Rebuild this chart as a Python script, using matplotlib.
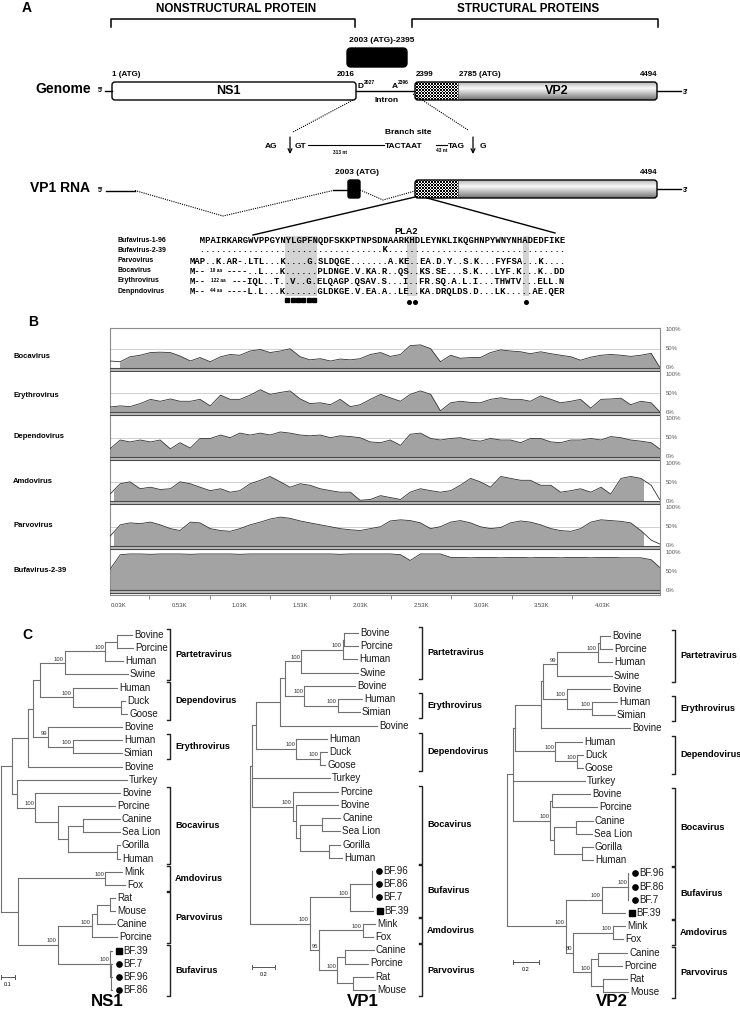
import numpy as np
import matplotlib.pyplot as plt
from matplotlib.patches import FancyBboxPatch, Rectangle

plt.rcParams['font.family'] = ['Liberation Sans', 'DejaVu Sans']

# ---------------- panel A: VP1 N-terminal alignment ----------------
aln_names = ['Bufavirus-1-96', 'Bufavirus-2-39', 'Parvovirus', 'Bocavirus', 'Erythrovirus', 'Denpndovirus']
aln_rows = [
    '  MPAIRKARGWVPPGYNYLGPFNQDFSKKPTNPSDNAARKHDLEYNKLIKQGHNPYWNYNHADEDFIKE',
    '  ' + '.' * 34 + 'K' + '.' * 33,
    'MAP..K.AR-.LTL...K....G.SLDQGE.......A.KE..EA.D.Y..S.K...FYFSA...K....',
    'M--    ----..L...K......PLDNGE.V.KA.R..QS..KS.SE...S.K...LYF.K...K..DD',
    'M--     ---IQL..T..V..G.ELQAGP.QSAV.S...I..FR.SQ.A.L.I...THWTV...ELL.N',
    'M--    ----L.L...K......GLDKGE.V.EA.A..LE..KA.DRQLDS.D...LK.....AE.QER',
]
aln_gap_notes = ['', '', '', '10 aa', '122 aa', '44 aa']
motif_cols = [16, 17, 18, 19, 20, 21]      # YLGPFN calcium-binding loop
pla2_cols = [39, 40, 61]                  # H D ... D catalytic residues

# ---------------- panel B: similarity plot (% identity) ----------------
sim_tracks = ['Bocavirus', 'Erythrovirus', 'Dependovirus', 'Amdovirus', 'Parvovirus', 'Bufavirus-2-39']
sim_pos = [-45, 40, 120, 205, 290, 370, 455, 535, 620, 700, 785, 870, 950, 1030, 1115, 1200,
           1280, 1365, 1445, 1530, 1610, 1695, 1780, 1860, 1945, 2025, 2110, 2195, 2275, 2360,
           2440, 2525, 2610, 2690, 2775, 2855, 2940, 3020, 3105, 3190, 3270, 3355, 3435, 3520,
           3605, 3685, 3770, 3850, 3935, 4020, 4100, 4185, 4265, 4350, 4435, 4505]
sim_boca = [18, 16, 29, 33, 40, 41, 40, 31, 18, 27, 16, 29, 35, 33, 44, 48, 40, 44, 50, 29,
            21, 24, 18, 23, 21, 24, 35, 40, 30, 35, 58, 60, 50, 16, 33, 25, 27, 27, 40, 47,
            44, 42, 37, 42, 37, 33, 29, 20, 28, 33, 35, 33, 30, 33, 38, 2]
sim_ery = [14, 17, 15, 23, 34, 29, 35, 29, 29, 34, 17, 45, 34, 34, 45, 59, 47, 52, 56, 35,
           23, 25, 20, 34, 15, 20, 34, 47, 38, 29, 47, 56, 47, 4, 25, 29, 26, 25, 34, 38,
           34, 34, 29, 43, 34, 25, 29, 34, 11, 34, 35, 37, 20, 29, 25, 2]
sim_dep = [21, 44, 39, 44, 39, 44, 21, 37, 23, 48, 48, 57, 50, 62, 57, 62, 57, 65, 62, 57,
           55, 57, 50, 55, 53, 50, 39, 37, 44, 30, 59, 62, 48, 44, 48, 50, 44, 41, 48, 44,
           44, 37, 48, 48, 39, 37, 44, 44, 48, 44, 53, 50, 44, 41, 37, 21]
sim_amdo = [19, 46, 51, 33, 37, 31, 33, 51, 46, 37, 28, 33, 24, 28, 46, 55, 65, 51, 37, 46,
            42, 33, 28, 24, 24, 3, 5, 15, 10, 5, 24, 33, 28, 24, 28, 42, 60, 51, 37, 65,
            60, 55, 55, 42, 42, 24, 28, 33, 24, 37, 19, 60, 65, 60, 42, 5]
sim_parvo = [25, 55, 60, 58, 62, 55, 45, 40, 62, 60, 45, 40, 38, 45, 55, 62, 70, 75, 72, 65,
             60, 55, 50, 45, 42, 40, 45, 50, 65, 68, 66, 60, 45, 50, 62, 66, 60, 50, 45, 48,
             60, 65, 62, 55, 45, 40, 38, 45, 62, 68, 66, 64, 60, 40, 15, 5]
sim_bufa = [55, 93, 95, 95, 94, 95, 95, 95, 94, 95, 95, 95, 95, 94, 95, 95, 95, 95, 95, 95,
            95, 95, 95, 94, 95, 95, 95, 95, 95, 93, 78, 95, 95, 95, 86, 86, 85, 86, 86, 85,
            86, 86, 85, 86, 86, 85, 86, 86, 85, 86, 86, 85, 85, 85, 80, 60]
sim_values = [sim_boca, sim_ery, sim_dep, sim_amdo, sim_parvo, sim_bufa]
sim_fill = [(40, 4508), (-45, 4508), (-45, 4508), (-10, 4368), (-10, 4368), (-45, 4508)]
sim_ticks = [30, 530, 1030, 1530, 2030, 2530, 3030, 3530, 4030]
sim_ticklabels = ['0.03K', '0.53K', '1.03K', '1.53K', '2.03K', '2.53K', '3.03K', '3.53K', '4.03K']

# ---------------- panel C: ML trees (newick, bootstrap as node labels) ----------------
ns1_nwk = ("((((((((Bovine:0.107,Porcine:0.114):0.086,Human:0.128)100:0.286,Swine:0.45)100:0.178,"
           "(Human:0.315,(Duck:0.029,Goose:0.043):0.343)100:0.235):0.05,"
           "(Bovine:0.528,(Human:0.35,Simian:0.35)100:0.178)99:0.107):0.036,Bovine:0.671):0.114,"
           "(Turkey:0.786,(Bovine:0.607,(Porcine:0.407,((Canine:0.264,Sea Lion:0.264):0.107,"
           "(Gorilla:0.021,Human:0.021):0.35):0.072):0.164)100:0.129):0.035):0.079,"
           "((Mink:0.121,Fox:0.143)100:0.622,((((Rat:0.035,Mouse:0.035):0.093,Canine:0.128):0.036,"
           "Porcine:0.179)100:0.243,(BF.39:0.014,(BF.7:0.007,BF.96:0.007,BF.86:0.007):0.007)100:0.372)100:0.286):0.121);")
vp1_nwk = ("((((((((Bovine:0.12,Porcine:0.12):0.009,Human:0.12)100:0.36,Swine:0.489)100:0.138,"
           "(Bovine:0.437,(Human:0.206,Simian:0.189)100:0.291)100:0.164):0.042,Bovine:0.832):0.206,"
           "(Human:0.266,(Duck:0.06,Goose:0.043)100:0.206)100:0.343):0.035,Turkey:0.67,"
           "(Porcine:0.386,(Bovine:0.36,((Canine:0.155,Sea Lion:0.155):0.189,"
           "(Gorilla:0.095,Human:0.112):0.249):0.034):0.026)100:0.352):0.017,"
           "(((BF.96:0.004,BF.86:0.004,BF.7:0.004):0.189,BF.39:0.198)100:0.343,"
           "((Mink:0.103,Fox:0.086)100:0.378,((Canine:0.249,Porcine:0.198):0.068,"
           "(Rat:0.172,Mouse:0.189):0.137)100:0.155)95:0.077)100:0.515);")
vp2_nwk = ("((((((((Bovine:0.078,Porcine:0.093):0.016,Human:0.109)100:0.319,Swine:0.428)99:0.109,"
           "(Bovine:0.335,(Human:0.195,Simian:0.179)100:0.194)100:0.187):0.015,Bovine:0.692):0.203,"
           "(Human:0.21,(Duck:0.046,Goose:0.046)100:0.171)100:0.312):0.015,Turkey:0.56,"
           "((Bovine:0.296,Porcine:0.35):0.015,((Canine:0.132,Sea Lion:0.124):0.171,"
           "(Gorilla:0.085,Human:0.085):0.218):0.031)100:0.288):0.047,"
           "(((BF.96:0.003,BF.86:0.003,BF.7:0.003)100:0.203,BF.39:0.179)100:0.28,"
           "((Mink:0.093,Fox:0.078)100:0.311,((Canine:0.226,Porcine:0.187):0.054,"
           "(Rat:0.187,Mouse:0.195):0.093)100:0.14)80:0.055)100:0.459);")
ns1_clades = [('Partetravirus', 0, 3), ('Dependovirus', 4, 6), ('Erythrovirus', 8, 9),
              ('Bocavirus', 12, 17), ('Amdovirus', 18, 19), ('Parvovirus', 20, 23), ('Bufavirus', 24, 27)]
vp_clades = [('Partetravirus', 0, 3), ('Erythrovirus', 5, 6), ('Dependovirus', 8, 10),
             ('Bocavirus', 12, 17), ('Bufavirus', 18, 21), ('Amdovirus', 22, 23), ('Parvovirus', 24, 27)]
bf_square = ['BF.39']
bf_circle = ['BF.7', 'BF.96', 'BF.86']

W, H = 740, 1016
fig = plt.figure(figsize=(W / 100, H / 100), dpi=100)
ax = fig.add_axes([0, 0, 1, 1])
ax.set_autoscale_on(False)
ax.set_xlim(0, W)
ax.set_ylim(H, 0)
ax.axis('off')


def px_axes(x0, y0, w, h):
    return fig.add_axes([x0 / W, 1 - (y0 + h) / H, w / W, h / H])


def T(x, y, s, size, ha='left', va='center', bold=True, **kw):
    ax.text(x, y, s, fontsize=size, ha=ha, va=va,
            fontweight='bold' if bold else 'normal', **kw)


# ================= panel A =================
T(22, 8, 'A', 10)
T(236, 9, 'NONSTRUCTURAL PROTEIN', 8.4, ha='center')
T(528, 9, 'STRUCTURAL PROTEINS', 8.4, ha='center')
ax.plot([111, 111, 355, 355], [27, 19, 19, 27], color='k', lw=1.1)
ax.plot([412, 412, 658, 658], [27, 19, 19, 27], color='k', lw=1.1)
T(382, 41, '2003 (ATG)-2395', 6, ha='center')
ax.add_patch(FancyBboxPatch((347, 48), 60, 19, boxstyle='round,pad=0,rounding_size=4',
                            fc='k', ec='k'))


def capsule(y_top, h):
    clip = FancyBboxPatch((415, y_top), 242, h, boxstyle='round,pad=0,rounding_size=3',
                          transform=ax.transData)
    n_r, n_c = 12, 29
    chk = np.add.outer(np.arange(n_r), np.arange(n_c)) % 2
    im = ax.imshow(chk, cmap='gray', vmin=0, vmax=1, extent=(415, 458, y_top + h, y_top),
                   interpolation='nearest', aspect='auto', zorder=2)
    im.set_clip_path(clip)
    grad = np.interp(np.linspace(0, 1, 40), [0, 0.35, 1], [0.72, 0.98, 0.45])[:, None]
    im2 = ax.imshow(grad, cmap='gray', vmin=0, vmax=1, extent=(458, 657, y_top + h, y_top),
                    aspect='auto', zorder=2)
    im2.set_clip_path(clip)
    ax.add_patch(FancyBboxPatch((415, y_top), 242, h, boxstyle='round,pad=0,rounding_size=3',
                                fc='none', ec='k', lw=1, zorder=3))
    ax.plot([458, 458], [y_top, y_top + h], color='#444', lw=0.5, zorder=3)


# genome
T(35, 89, 'Genome', 10)
T(98, 91, "5'", 5)
ax.plot([105, 112], [91, 91], color='k', lw=1)
ax.add_patch(FancyBboxPatch((112, 82), 244, 18, boxstyle='round,pad=0,rounding_size=3',
                            fc='white', ec='k', lw=1))
T(228, 91, 'NS1', 9, ha='center')
T(112, 75, '1 (ATG)', 5.8)
T(355, 75, '2016', 5.8, ha='right')
ax.plot([356, 415], [91, 91], color='k', lw=1)
T(357, 86, 'D', 6)
T(364, 83, '2027', 3.6)
T(392, 86, 'A', 6)
T(398, 83, '2396', 3.6)
T(387, 100, 'Intron', 6, ha='center')
capsule(82, 18)
T(557, 91, 'VP2', 9, ha='center', zorder=4)
T(416, 75, '2399', 5.8)
T(459, 75, '2785 (ATG)', 5.8)
T(657, 75, '4494', 5.8, ha='right')
ax.plot([657, 681], [91, 91], color='k', lw=1)
T(683, 92, "3'", 5)

# splice sites
ax.plot([353, 293], [100, 132], color='k', lw=0.8, ls=(0, (1, 1)))
ax.plot([413, 468], [94, 130], color='k', lw=0.8, ls=(0, (1, 1)))
T(265, 146, 'AG', 6)
T(295, 146, 'GT', 6)
ax.plot([308, 384], [145, 145], color='k', lw=0.8)
T(340, 152, '313 nt', 3.4, ha='center')
T(408, 133, 'Branch site', 6, ha='center')
T(385, 146, 'TACTAAT', 6)
ax.plot([436, 447], [144.5, 144.5], color='k', lw=0.8)
T(442, 151, '43 nt', 3.4, ha='center')
T(448, 146, 'TAG', 6)
T(480, 146, 'G', 6)
for xa in (290, 473):
    ax.annotate('', xy=(xa, 154), xytext=(xa, 137),
                arrowprops=dict(arrowstyle='->', lw=0.9, color='k', mutation_scale=7,
                                shrinkA=0, shrinkB=0))

# VP1 RNA
T(30, 188, 'VP1 RNA', 10)
T(98, 190, "5'", 5)
ax.plot([106, 135], [190.5, 190.5], color='k', lw=1)
ax.plot([135, 223, 333], [190.5, 216, 190.5], color='k', lw=0.8, ls=(0, (1, 1)))
ax.plot([333, 348], [190, 190], color='k', lw=1)
ax.add_patch(FancyBboxPatch((348, 180), 12, 18, boxstyle='round,pad=0,rounding_size=2',
                            fc='k', ec='k'))
T(335, 172, '2003 (ATG)', 6)
ax.plot([360, 383, 415], [190, 200, 191], color='k', lw=0.8, ls=(0, (1, 1)))
capsule(180, 18)
T(657, 173, '4494', 5.8, ha='right')
ax.plot([657, 681], [189, 189], color='k', lw=1)
T(683, 190, "3'", 5)
ax.plot([415, 253], [197, 235], color='k', lw=1)
ax.plot([427, 555], [198, 233], color='k', lw=1)

# alignment
cw = 5.3                      # px per residue
x_idx0 = 200.0                # x of alignment column 0
x_str0 = x_idx0 - 2 * cw      # x of the first string character
row_y = [240.5, 250, 261, 271, 281, 291.5]
for c in motif_cols + pla2_cols:
    ax.add_patch(Rectangle((x_idx0 + c * cw, 236), cw, 60, fc='#d4d4d4', ec='none', zorder=0))
T(406, 231, 'PLA2', 6.6, ha='center')
mono = dict(family='Liberation Mono', fontsize=6.36, fontweight='bold', va='center', ha='left', zorder=2)
for name, row, note, y in zip(aln_names, aln_rows, aln_gap_notes, row_y):
    T(117, y, name, 5)
    if note:
        c0 = row.index(' ')
        n_sp = row.count(' ')
        ax.text(x_str0, y, row[:c0], **mono)
        ax.text(x_str0 + (c0 + n_sp) * cw, y, row[c0 + n_sp:], **mono)
        ax.text(x_str0 + (c0 + n_sp / 2) * cw, y - 0.5, note, fontsize=3.4,
                fontweight='bold', ha='center', va='center')
    else:
        ax.text(x_str0, y, row, **mono)
for c in motif_cols:
    ax.plot(x_idx0 + (c + 0.5) * cw, 300, marker='s', ms=2.6, color='k')
for c in pla2_cols:
    ax.plot(x_idx0 + (c + 0.5) * cw, 302, marker='o', ms=2.6, color='k')

# ================= panel B =================
T(28, 322, 'B', 10)
trk_h = 44.5
name_level = [31, 45, 52, 52, 52, 52]     # vertical placement of the track names (in % units)
for i, (name, vals, (f0, f1)) in enumerate(zip(sim_tracks, sim_values, sim_fill)):
    a = px_axes(110, 328 + i * trk_h, 550, trk_h)
    a.set_xlim(-45, 4508)
    a.set_ylim(-12, 104)
    a.axhline(50, color='#d0d0d0', lw=0.7, zorder=1)
    poly = a.fill_between(sim_pos, 0, vals, color='#a3a3a3', lw=0, zorder=2)
    poly.set_clip_path(Rectangle((f0, -1), f1 - f0, 110, transform=a.transData))
    a.plot(sim_pos, vals, color='#333333', lw=0.6, zorder=3)
    a.axhspan(-8, 0, color='#bdbdbd', lw=0, zorder=2)
    a.axhline(0, color='#4a4a4a', lw=0.8, zorder=4)
    a.axhline(-8, color='#4a4a4a', lw=0.8, zorder=4)
    for s in ('left', 'right', 'top', 'bottom'):
        a.spines[s].set_color('#8c8c8c')
        a.spines[s].set_linewidth(0.8)
    a.spines['top'].set_visible(i == 0)
    a.spines['bottom'].set_visible(i == len(sim_tracks) - 1)
    a.set_yticks([])
    yt = a.get_yaxis_transform()
    for v, lab in ((100, '100%'), (50, '50%'), (0, '0%')):
        a.text(1.01, v, lab, transform=yt, fontsize=4.3, color='#555', va='center', ha='left')
    a.text(-0.176, name_level[i], name, transform=yt, fontsize=5.5, fontweight='bold',
           va='center', ha='left')
    if i < len(sim_tracks) - 1:
        a.set_xticks([])
    else:
        a.set_xticks(sim_ticks)
        a.set_xticklabels(sim_ticklabels)
        a.set_xticks([t + 250 for t in sim_ticks[:-1]], minor=True)
        a.tick_params(axis='x', which='major', length=0, pad=6, labelsize=4.3, labelcolor='#444')
        a.tick_params(axis='x', which='minor', length=3, color='#777', direction='out')

# ================= panel C =================
T(22, 635, 'C', 10)


def parse_newick(s):
    s = s.strip().rstrip(';')
    pos = 0

    def node():
        nonlocal pos
        kids = []
        if s[pos] == '(':
            pos += 1
            kids.append(node())
            while s[pos] == ',':
                pos += 1
                kids.append(node())
            pos += 1
        st = pos
        while pos < len(s) and s[pos] not in ':,()':
            pos += 1
        label = s[st:pos]
        length = 0.0
        if pos < len(s) and s[pos] == ':':
            pos += 1
            st = pos
            while pos < len(s) and s[pos] not in ',()':
                pos += 1
            length = float(s[st:pos])
        return {'label': label, 'len': length, 'kids': kids}
    return node()


def place(n, x_parent, leaves):
    n['x'] = x_parent + n['len']
    if n['kids']:
        for k in n['kids']:
            place(k, n['x'], leaves)
        n['y'] = (n['kids'][0]['y'] + n['kids'][-1]['y']) / 2
    else:
        n['y'] = len(leaves)
        leaves.append(n)


def draw_node(a, n, x_parent, u):
    lc = '#707070'
    a.plot([x_parent, n['x']], [n['y'], n['y']], color=lc, lw=0.8, clip_on=False,
           solid_capstyle='projecting')
    if n['kids']:
        a.plot([n['x'], n['x']], [n['kids'][0]['y'], n['kids'][-1]['y']], color=lc, lw=0.8,
               clip_on=False, solid_capstyle='projecting')
        if n['label']:
            a.annotate(n['label'], (n['x'], n['y']), xytext=(-0.8, 1.0), textcoords='offset points',
                       ha='right', va='bottom', fontsize=4.2, color='#333')
        for k in n['kids']:
            draw_node(a, k, n['x'], u)
    else:
        name = n['label']
        if name in bf_square or name in bf_circle:
            a.plot(n['x'] + 7 * u, n['y'], marker='s' if name in bf_square else 'o',
                   ms=3.8, color='k', clip_on=False)
            a.text(n['x'] + 11 * u, n['y'], name, fontsize=7, va='center', color='#1a1a1a')
        else:
            a.text(n['x'] + 2 * u, n['y'], name, fontsize=7, va='center', color='#1a1a1a')


tree_specs = [
    dict(nwk=ns1_nwk, clades=ns1_clades, title='NS1', x0=0, x1=245, root=1, ppu=140.0,
         y0=635, dy=13.15, brk=170, bar=0.1, bar_x=1, bar_y=977, title_x=107),
    dict(nwk=vp1_nwk, clades=vp_clades, title='VP1', x0=245, x1=500, root=250, ppu=116.5,
         y0=633, dy=13.22, brk=422, bar=0.2, bar_x=252, bar_y=967, title_x=363),
    dict(nwk=vp2_nwk, clades=vp_clades, title='VP2', x0=500, x1=740, root=507, ppu=128.5,
         y0=636, dy=13.19, brk=675, bar=0.2, bar_x=513, bar_y=962, title_x=612),
]

for sp in tree_specs:
    a = px_axes(sp['x0'], 615, sp['x1'] - sp['x0'], 401)
    a.set_facecolor('none')
    a.axis('off')
    ppu, dy = sp['ppu'], sp['dy']
    a.set_xlim((sp['x0'] - sp['root']) / ppu, (sp['x1'] - sp['root']) / ppu)
    a.set_ylim((H - sp['y0']) / dy, (615 - sp['y0']) / dy)
    u = 1.0 / ppu
    root = parse_newick(sp['nwk'])
    leaves = []
    place(root, 0.0, leaves)
    draw_node(a, root, 0.0, u)
    bx = (sp['brk'] - sp['root']) * u
    for cname, i0, i1 in sp['clades']:
        a.plot([bx - 3 * u, bx, bx, bx - 3 * u], [i0 - 0.45, i0 - 0.45, i1 + 0.45, i1 + 0.45],
               color='#222', lw=1.0, clip_on=False)
        a.text(bx + 5 * u, (i0 + i1) / 2, cname, fontsize=6.6, fontweight='bold', va='center')
    sx = (sp['bar_x'] - sp['root']) * u
    sy = (sp['bar_y'] - sp['y0']) / dy
    a.plot([sx, sx + sp['bar']], [sy, sy], color='#555', lw=0.7, clip_on=False)
    for xx in (sx, sx + sp['bar']):
        a.plot([xx, xx], [sy - 0.15, sy + 0.15], color='#555', lw=0.7, clip_on=False)
    a.text(sx + sp['bar'] / 2, sy + 0.55, str(sp['bar']), fontsize=4, ha='center', va='center')
    T(sp['title_x'], 1001, sp['title'], 12.2, ha='center')

ax.set_xlim(0, W)
ax.set_ylim(H, 0)
fig.savefig('out.png', dpi=100)
